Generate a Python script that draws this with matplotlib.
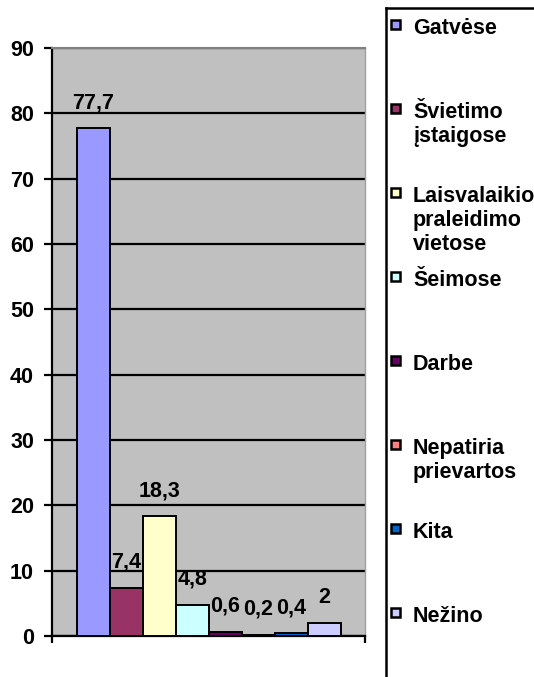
import matplotlib.pyplot as plt
from matplotlib.patches import Rectangle
from matplotlib.lines import Line2D

plt.rcParams['font.family'] = ['Liberation Sans', 'DejaVu Sans']
plt.rcParams['font.weight'] = 'bold'

# where the violence happened (%)
places = ['Gatvėse', 'Švietimo\nįstaigose', 'Laisvalaikio\npraleidimo\nvietose',
          'Šeimose', 'Darbe', 'Nepatiria\nprievartos', 'Kita', 'Nežino']
values = [77.7, 7.4, 18.3, 4.8, 0.6, 0.2, 0.4, 2]
colors = ['#9999FF', '#993366', '#FFFFCC', '#CCFFFF',
          '#660066', '#FF8080', '#0066CC', '#CCCCFF']
yticks = [0, 10, 20, 30, 40, 50, 60, 70, 80, 90]

FS = 15.5
W, H = 534, 677
fig = plt.figure(figsize=(W / 100, H / 100), dpi=100)
ax = fig.add_axes([52 / W, 41 / H, 313 / W, 588 / H])
ax.set_facecolor('#C0C0C0')

xs = list(range(len(values)))
bars = ax.bar(xs, values, width=1.0, color=colors, edgecolor='black',
              linewidth=1.4, zorder=3)
labels = [('%g' % v).replace('.', ',') for v in values]
ax.bar_label(bars, labels=labels, padding=11, fontsize=FS, fontweight='bold')

ax.set_ylim(0, 90)
ax.set_xlim(-1.26, 8.23)
ax.set_yticks(yticks)
ax.set_yticklabels([str(t) for t in yticks], fontsize=FS, fontweight='bold')
ax.yaxis.grid(True, color='black', linewidth=1.6, zorder=1)
ax.set_axisbelow(True)
ax.tick_params(axis='y', length=6, width=1.6, pad=7)
ax.set_xticks([-1.26, 8.23])
ax.set_xticklabels(['', ''])
ax.tick_params(axis='x', length=5, width=1.6)

ax.spines['left'].set_linewidth(1.6)
ax.spines['bottom'].set_linewidth(1.6)
ax.spines['top'].set_color('#808080')
ax.spines['top'].set_linewidth(1.5)
ax.spines['right'].set_color('#A0A0A0')
ax.spines['right'].set_linewidth(1)

# legend panel on the right, drawn by hand (pixel coords from top-left)
def fx(px):
    return px / W

def fy(py):
    return 1 - py / H

fig.add_artist(Line2D([fx(386), fx(386)], [fy(8), fy(H + 5)], color='black', lw=1.8))
fig.add_artist(Line2D([fx(386), fx(W + 5)], [fy(8), fy(8)], color='black', lw=1.8))

for i, (name, c) in enumerate(zip(places, colors)):
    base = 34 + 84 * i
    fig.add_artist(Rectangle((fx(391), fy(base - 5)), 9 / W, 9 / H,
                             facecolor=c, edgecolor='black', lw=1.8))
    for k, line in enumerate(name.split('\n')):
        fig.text(fx(413), fy(base + 24 * k), line, fontsize=FS,
                 fontweight='bold', va='baseline', ha='left')

fig.savefig('out.png', dpi=100)
